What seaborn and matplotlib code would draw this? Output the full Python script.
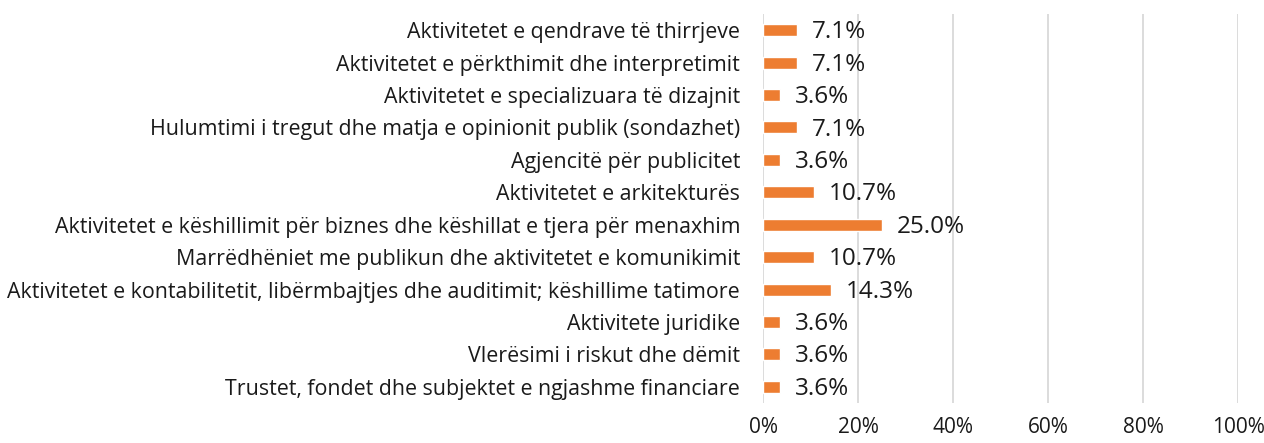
import pandas as pd
import matplotlib.pyplot as plt
import seaborn as sns
from matplotlib.ticker import PercentFormatter

categories = [
    "Aktivitetet e qendrave të thirrjeve",
    "Aktivitetet e përkthimit dhe interpretimit",
    "Aktivitetet e specializuara të dizajnit",
    "Hulumtimi i tregut dhe matja e opinionit publik (sondazhet)",
    "Agjencitë për publicitet",
    "Aktivitetet e arkitekturës",
    "Aktivitetet e këshillimit për biznes dhe këshillat e tjera për menaxhim",
    "Marrëdhëniet me publikun dhe aktivitetet e komunikimit",
    "Aktivitetet e kontabilitetit, libërmbajtjes dhe auditimit; këshillime tatimore",
    "Aktivitete juridike",
    "Vlerësimi i riskut dhe dëmit",
    "Trustet, fondet dhe subjektet e ngjashme financiare",
]
shares = [7.1, 7.1, 3.6, 7.1, 3.6, 10.7, 25.0, 10.7, 14.3, 3.6, 3.6, 3.6]
x_ticks = [0, 20, 40, 60, 80, 100]

df = pd.DataFrame({"Category": categories, "Share": shares})

sns.set_style("white")
plt.rcParams["font.family"] = ["Open Sans", "DejaVu Sans"]

fig = plt.figure(figsize=(12.64, 4.43), dpi=100)
ax = fig.add_axes([763 / 1264, 1 - 403 / 443, 475 / 1264, 389 / 443])

sns.barplot(
    data=df,
    x="Share",
    y="Category",
    color="#ED7D31",
    width=0.37,
    saturation=1,
    ax=ax,
)

for cont in ax.containers:
    texts = ax.bar_label(cont, labels=[f"{v:.1f}%" for v in shares],
                         padding=11, fontsize=17.5, color="#1a1a1a")
    # value labels sit a little below the bar centre in the original
    for t in texts:
        t.xyann = (11, -1.5)

ax.set_xlim(0, 100)
ax.set_xticks(x_ticks)
ax.xaxis.set_major_formatter(PercentFormatter(decimals=0))
ax.grid(axis="x", color="#d9d9d9", linewidth=1.3)
ax.set_axisbelow(True)
sns.despine(ax=ax, left=True, bottom=True)

ax.tick_params(axis="x", length=0, pad=10, labelsize=15, labelcolor="#1a1a1a")
ax.tick_params(axis="y", length=0, pad=16.5, labelsize=15.4, labelcolor="#1a1a1a")
ax.set_xlabel("")
ax.set_ylabel("")

fig.savefig("out.png", dpi=100)
